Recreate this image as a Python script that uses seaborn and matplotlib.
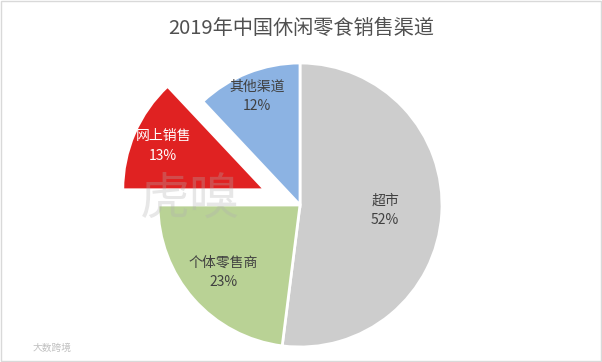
import matplotlib.pyplot as plt
import numpy as np
import seaborn as sns
from matplotlib.patches import Rectangle

sns.set_theme(style="white")
plt.rcParams["font.family"] = ["Noto Sans CJK SC", "DejaVu Sans"]

TITLE = "2019年中国休闲零食销售渠道"
channels = ["超市", "个体零售商", "网上销售", "其他渠道"]
shares = [52, 23, 13, 12]

colors = ["#CDCDCD", "#B9D295", "#E02222", "#8CB3E3"]
explode = [0, 0, 0.27, 0]
label_dist = [0.6, 0.72, 0.78, 0.82]
label_colors = ["#404040", "#404040", "white", "#404040"]

W, H = 602, 362
cx, cy, r = 300, 205, 142

fig = plt.figure(figsize=(W / 100, H / 100), dpi=100)
fig.patch.set_facecolor("white")
ax = fig.add_axes([(cx - 1.5 * r) / W, (H - cy - 1.05 * r) / H, 3 * r / W, 2.1 * r / H])

labels = [f"{c}\n{s}%" for c, s in zip(channels, shares)]
wedges, texts = ax.pie(
    shares,
    colors=colors,
    explode=explode,
    startangle=90,
    counterclock=False,
    labels=labels,
    wedgeprops=dict(edgecolor="white", linewidth=2),
    textprops=dict(fontsize=10),
)
for w, t, d, col in zip(wedges, texts, label_dist, label_colors):
    mid = np.deg2rad((w.theta1 + w.theta2) / 2)
    x0, y0 = w.center
    t.set_position((x0 + d * np.cos(mid), y0 + d * np.sin(mid)))
    t.set_ha("center")
    t.set_va("center")
    t.set_color(col)
    t.set_linespacing(1.5)

ax.set_aspect("auto")
ax.set_xlim(-1.5, 1.5)
ax.set_ylim(-1.05, 1.05)
ax.axis("off")

fig.text(0.5, 1 - 28 / H, TITLE, ha="center", va="center", fontsize=14.5, color="#505050")

# faint watermarks
fig.text(190 / W, 1 - 200 / H, "虎嗅", ha="center", va="center", fontsize=36,
         color="#B0B0B0", alpha=0.3, zorder=5)
fig.text(33 / W, 1 - 348 / H, "大数跨境", ha="left", va="center", fontsize=7,
         color="#C0C0C0")

fig.patches.append(Rectangle((0.002, 0.003), 0.996, 0.994, transform=fig.transFigure,
                             fill=False, edgecolor="#D9D9D9", linewidth=1))

fig.savefig("out.png", dpi=100, facecolor="white")
